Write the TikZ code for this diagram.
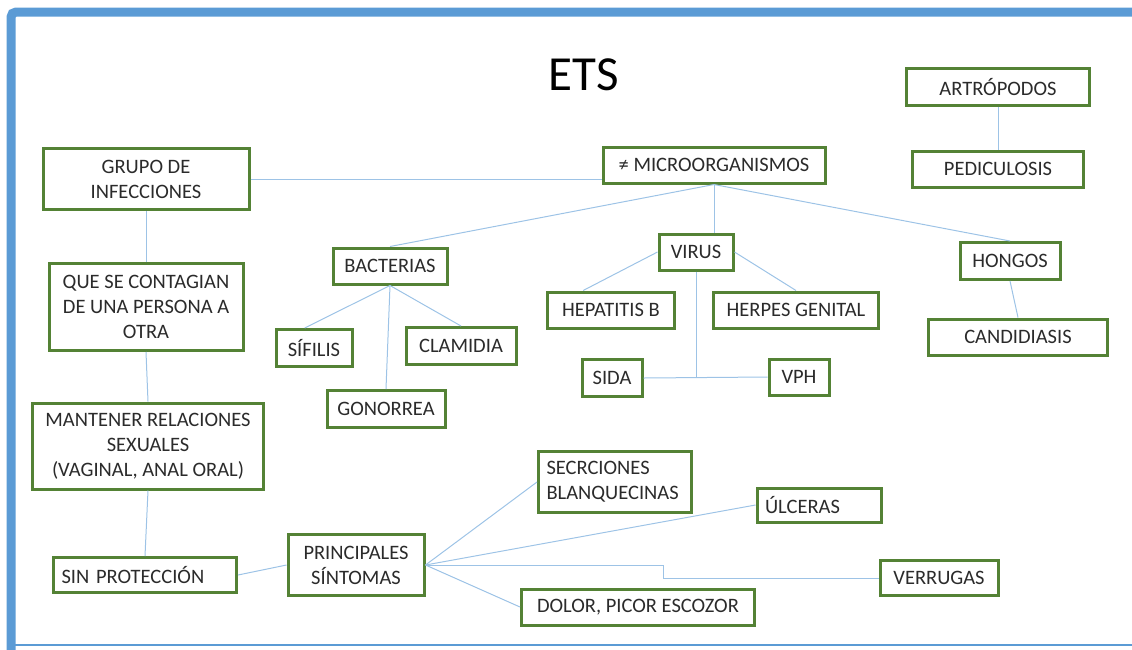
\documentclass[tikz,border=0pt]{standalone}
\usepackage{fontspec}
\setmainfont{Carlito}
\usepackage{tikz}
\usetikzlibrary{positioning}
\usepackage{xcolor}
\definecolor{frameblue}{HTML}{5B9BD5}
\definecolor{boxgreen}{HTML}{548235}
\definecolor{linkblue}{HTML}{9DC3E6}
\definecolor{textgray}{HTML}{2B2B2B}

\begin{document}
\begin{tikzpicture}[x=1pt, y=-1pt,
    box/.style={draw=boxgreen, line width=3pt, fill=white, text=textgray, align=center, inner sep=2pt, font=\fontsize{20.5}{25}\selectfont},
    leftbox/.style={box, align=left, inner xsep=8pt},
    link/.style={draw=linkblue, line width=1pt}]
        \useasboundingbox (0,0) rectangle (1132,649);

        % Frame
        \draw[frameblue, line width=9pt, rounded corners=5pt] (1145,12) -- (11,12) -- (11,650);
        \draw[frameblue, line width=2pt] (11,645) -- (1145,645);

        % Title
        \node[text=black, font=\fontsize{49}{52}\selectfont] (title) at (584,75) {ETS};

        % Boxes
        \node[box, minimum width=206, minimum height=61] (grupo) at (146,179) {GRUPO DE\\INFECCIONES};
        \node[box, minimum width=222, minimum height=36] (micro) at (714,165) {≠ MICROORGANISMOS};
        \node[box, minimum width=183, minimum height=37] (artro) at (998,87) {ARTRÓPODOS};
        \node[box, minimum width=171, minimum height=36] (pedic) at (998,169) {PEDICULOSIS};
        \node[box, minimum width=194, minimum height=87] (contagio) at (146,307) {QUE SE CONTAGIAN\\DE UNA PERSONA A\\OTRA};
        \node[box, minimum width=114, minimum height=36] (bact) at (390,266) {BACTERIAS};
        \node[box, minimum width=74, minimum height=36] (virus) at (696,252) {VIRUS};
        \node[box, minimum width=100, minimum height=37] (hongos) at (1010,261) {HONGOS};
        \node[box, minimum width=127, minimum height=36] (hepa) at (611,310) {HEPATITIS B};
        \node[box, minimum width=165, minimum height=36] (herpes) at (796,310) {HERPES GENITAL};
        \node[box, minimum width=179, minimum height=36] (candi) at (1018,337) {CANDIDIASIS};
        \node[box, minimum width=76, minimum height=37] (sifilis) at (314,348) {SÍFILIS};
        \node[box, minimum width=110, minimum height=37] (clamidia) at (461,346) {CLAMIDIA};
        \node[box, minimum width=118, minimum height=37] (gono) at (386,409) {GONORREA};
        \node[box, minimum width=60, minimum height=37] (sida) at (612,378) {SIDA};
        \node[box, minimum width=60, minimum height=36] (vph) at (799,377) {VPH};
        \node[box, minimum width=231, minimum height=86] (relac) at (148,446) {MANTENER RELACIONES\\SEXUALES\\(VAGINAL, ANAL ORAL)};
        \node[leftbox, text width=137, minimum height=61] (secr) at (615,482) {SECRCIONES\\BLANQUECINAS};
        \node[leftbox, text width=108, minimum height=34] (ulce) at (819,505) {ÚLCERAS};
        \node[box, minimum width=136, minimum height=61] (sintomas) at (356,565) {PRINCIPALES\\SÍNTOMAS};
        \node[leftbox, text width=167, minimum height=35] (sinprot) at (145,575) {SIN PROTECCIÓN};
        \node[box, minimum width=118, minimum height=35] (verr) at (939,578) {VERRUGAS};
        \node[box, minimum width=233, minimum height=36] (dolor) at (638,607) {DOLOR, PICOR ESCOZOR};

        % Links
        \draw[link] (grupo.east) -- (grupo.east -| micro.west);
        \draw[link] (micro.south) -- (bact.north);
        \draw[link] (micro.south) -- (micro.south |- virus.north);
        \draw[link] (micro.south) -- (hongos.north);
        \draw[link] (artro.south) -- (pedic.north);
        \draw[link] (grupo.south) -- (contagio.north);
        \draw[link] (contagio.south) -- (relac.north);
        \draw[link] (relac.south) -- (sinprot.north);
        \draw[link] (sinprot.east) -- (sintomas.west);
        \draw[link] (bact.south) -- (sifilis.115);
        \draw[link] (bact.south) -- (gono.north);
        \draw[link] (bact.south) -- (clamidia.north);
        \draw[link] (virus.west) -- (hepa.145);
        \draw[link] (virus.east) -- (herpes.north);
        \draw[link] (virus.south) -- (virus.south |- sida.east);
        \draw[link] (sida.east) -- (vph.west);
        \draw[link] (hongos.south) -- (candi.north);
        \draw[link] (sintomas.east) -- (secr.west);
        \draw[link] (sintomas.east) -- (ulce.west);
        \draw[link] (sintomas.east) -- (dolor.west);
        \coordinate (bend) at (663,565);
        \draw[link] (sintomas.east) -- (bend) |- (verr.west);
    \end{tikzpicture}
\end{document}
